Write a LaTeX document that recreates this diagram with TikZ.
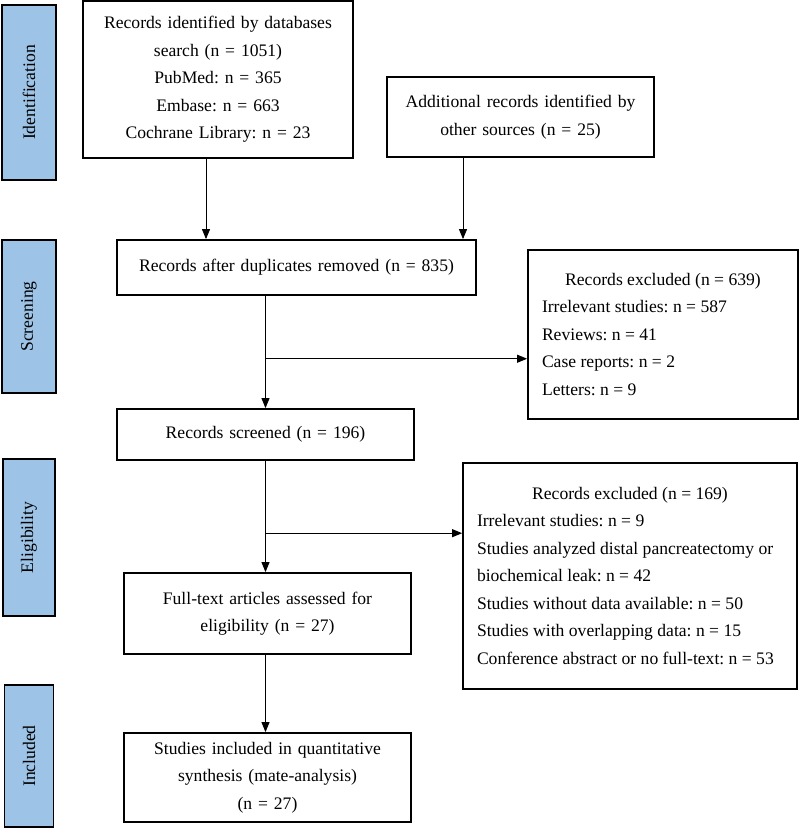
\documentclass[tikz,border=0pt]{standalone}
\usepackage{fontspec}
\setmainfont{Liberation Serif}
\usetikzlibrary{positioning, calc, arrows.meta}

\definecolor{stageblue}{RGB}{157,195,230}

\tikzset{
  txt/.style={font=\fontsize{17.6pt}{27.5pt}\selectfont\frenchspacing},
  box/.style={txt, draw, line width=1.8pt, align=center, inner xsep=0pt, inner ysep=0pt},
  listbox/.style={txt, draw, line width=1.8pt, align=left, inner xsep=14pt, inner ysep=0pt},
  stage/.style={txt, draw, line width=1.8pt, fill=stageblue, rotate=90, inner sep=0pt},
  arr/.style={-{Triangle[length=10pt,width=8pt]}, line width=0.9pt}
}

\begin{document}
\begin{tikzpicture}[on grid]

  \useasboundingbox (0,0) rectangle (800pt,-828pt);

  % Stage labels on the left
  \node[stage, minimum width=175pt, minimum height=54pt] (sId) at (29pt,-92.5pt) {Identification};
  \node[stage, minimum width=153pt, minimum height=54pt, below=224pt of sId] (sScr) {Screening};
  \node[stage, minimum width=157pt, minimum height=52pt, below=221pt of sScr] (sElig) {Eligibility};
  \node[stage, minimum width=142pt, minimum height=49pt, below=218.5pt of sElig] (sIncl) {Included};

  % Flow boxes
  \node[box, text width=270pt, minimum height=157pt] (db) at (218pt,-79.5pt)
    {Records identified by databases\\ search (n = 1051)\\ PubMed: n = 365\\ Embase: n = 663\\ Cochrane Library: n = 23};
  \node[box, text width=267pt, minimum height=80pt, below right=37.5pt and 302.5pt of db] (other)
    {Additional records identified by\\ other sources (n = 25)};
  \node[box, text width=359pt, minimum height=55pt, below right=188pt and 78.5pt of db] (dup)
    {Records after duplicates removed (n = 835)};
  \node[listbox, minimum width=270pt, minimum height=169pt, below right=67pt and 366.5pt of dup] (exA)
    {\makebox[242pt]{Records excluded (n = 639)}\\
     Irrelevant studies: n = 587\\
     Reviews: n = 41\\
     Case reports: n = 2\\
     Letters: n = 9};
  \node[box, text width=297pt, minimum height=51pt, below left=167pt and 31pt of dup] (screened)
    {Records screened (n = 196)};
  \node[listbox, minimum width=334pt, minimum height=226pt, below right=141.5pt and 364.5pt of screened] (exB)
    {\makebox[306pt]{Records excluded (n = 169)}\\
     Irrelevant studies: n = 9\\
     Studies analyzed distal pancreatectomy or\\
     biochemical leak: n = 42\\
     Studies without data available: n = 50\\
     Studies with overlapping data: n = 15\\
     Conference abstract or no full-text: n = 53};
  \node[box, text width=287pt, minimum height=81pt, below right=179pt and 2pt of screened] (full)
    {Full-text articles assessed for\\ eligibility (n = 27)};
  \node[box, text width=287pt, minimum height=89pt, below=164pt of full] (incl)
    {Studies included in quantitative\\ synthesis (mate-analysis)\\ (n = 27)};

  % Branch points
  \coordinate (bA) at ($(dup.south -| screened.north)!0.56!(screened.north)$);
  \coordinate (bB) at ($(screened.south)!0.65!(screened.south |- full.north)$);

  % Connectors
  \draw[arr] ([xshift=-12pt]db.south) -- ([xshift=-12pt]db.south |- dup.north);
  \draw[arr] ([xshift=-57.5pt]other.south) -- ([xshift=-57.5pt]other.south |- dup.north);
  \draw[arr] (dup.south -| screened.north) -- (screened.north);
  \draw[arr] (bA) -- (bA -| exA.west);
  \draw[arr] (screened.south) -- (screened.south |- full.north);
  \draw[arr] (bB) -- (bB -| exB.west);
  \draw[arr] (full.south -| screened.south) -- (screened.south |- incl.north);

\end{tikzpicture}
\end{document}
